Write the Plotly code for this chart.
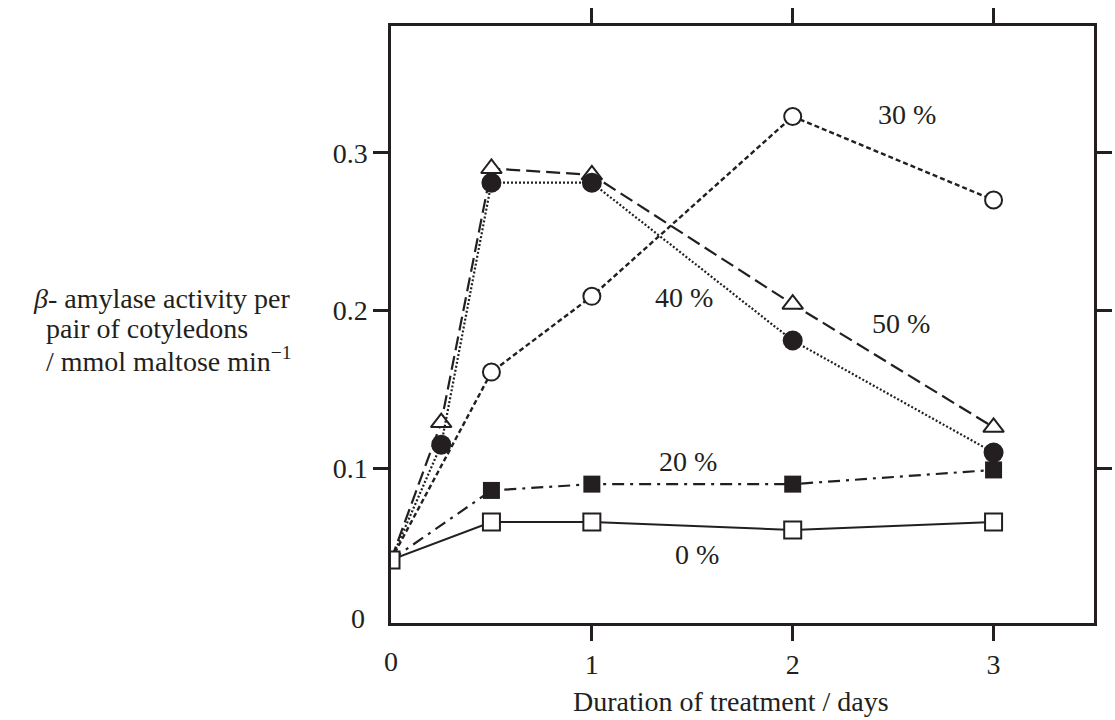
import plotly.graph_objects as go

# ---- data ----
days_main = [0, 0.5, 1, 2, 3]
days_fast = [0, 0.25, 0.5, 1, 2, 3]
act_0 = [0.042, 0.066, 0.066, 0.061, 0.066]
act_20 = [0.042, 0.086, 0.090, 0.090, 0.099]
act_30 = [0.042, 0.161, 0.209, 0.323, 0.270]
act_40 = [0.042, 0.115, 0.281, 0.281, 0.181, 0.110]
act_50 = [0.042, 0.129, 0.290, 0.286, 0.204, 0.126]
series_labels = ["0 %", "20 %", "30 %", "40 %", "50 %"]
x_ticks = [1, 2, 3]
y_ticks = [0.1, 0.2, 0.3]

INK = "#231f20"
FONT = "Liberation Serif"

fig = go.Figure()

def sizes(n, s):
    return [0] + [s] * (n - 1)

# 50 % : open triangles, long dashes
fig.add_trace(go.Scatter(
    x=days_fast, y=act_50, mode="lines+markers",
    line=dict(color=INK, width=2.2, dash="14px,6px"),
    marker=dict(symbol="triangle-up", size=sizes(len(act_50), 18), color="white",
                opacity=1, line=dict(color=INK, width=2)),
    showlegend=False))
# 40 % : filled circles, dotted
fig.add_trace(go.Scatter(
    x=days_fast, y=act_40, mode="lines+markers",
    line=dict(color=INK, width=2.2, dash="2px,2px"),
    marker=dict(symbol="circle", size=sizes(len(act_40), 20), color=INK,
                opacity=1, line=dict(color=INK, width=0)),
    showlegend=False))
# 30 % : open circles, short dashes
fig.add_trace(go.Scatter(
    x=days_main, y=act_30, mode="lines+markers",
    line=dict(color=INK, width=2.4, dash="5px,3px"),
    marker=dict(symbol="circle", size=sizes(len(act_30), 17), color="white",
                opacity=1, line=dict(color=INK, width=2)),
    showlegend=False))
# 20 % : filled squares, dash-dot
fig.add_trace(go.Scatter(
    x=days_main, y=act_20, mode="lines+markers",
    line=dict(color=INK, width=2.2, dash="12px,6px,3px,6px"),
    marker=dict(symbol="square", size=sizes(len(act_20), 17), color=INK,
                opacity=1, line=dict(color=INK, width=0)),
    showlegend=False))
# 0 % : open squares, solid
fig.add_trace(go.Scatter(
    x=days_main, y=act_0, mode="lines+markers",
    line=dict(color=INK, width=2),
    marker=dict(symbol="square", size=17, color="white", opacity=1,
                line=dict(color=INK, width=2)),
    showlegend=False))

tickfont = dict(family=FONT, size=28, color=INK)

fig.update_xaxes(range=[0, 3.5], tickvals=x_ticks, ticktext=[str(v) for v in x_ticks],
                 ticks="outside", ticklen=15, tickwidth=2.5, tickcolor=INK,
                 showline=True, linewidth=2.5, linecolor=INK, mirror="ticks",
                 showgrid=False, zeroline=False, tickfont=tickfont)
fig.update_yaxes(range=[0.002, 0.3803], tickvals=y_ticks, ticktext=[str(v) for v in y_ticks],
                 ticks="outside", ticklen=15, tickwidth=2.5, tickcolor=INK,
                 showline=True, linewidth=2.5, linecolor=INK, mirror="ticks",
                 showgrid=False, zeroline=False, tickfont=tickfont)

ann = []
# series labels
label_pos = {"30 %": (2.568, 0.324), "40 %": (1.461, 0.208), "50 %": (2.539, 0.192),
             "20 %": (1.481, 0.1046), "0 %": (1.524, 0.0457)}
for lab in series_labels:
    x, y = label_pos[lab]
    ann.append(dict(x=x, y=y, xref="x", yref="y", text=lab, showarrow=False,
                    xanchor="center", yanchor="middle", font=tickfont))
# "0" labels at the origin
ann.append(dict(x=0, y=-0.0648, xref="x", yref="paper", text="0", showarrow=False,
                xanchor="center", yanchor="middle", font=tickfont))
ann.append(dict(x=-0.0337, y=0.0051, xref="paper", yref="y", text="0", showarrow=False,
                xanchor="right", yanchor="middle", font=tickfont))
# axis titles
ann.append(dict(x=0.484, y=-0.132, xref="paper", yref="paper",
                text="Duration of treatment / days", showarrow=False,
                xanchor="center", yanchor="middle", font=tickfont))
ytitle = [("<i>β</i>- amylase activity per", 22, 298),
          ("pair of cotyledons", 35, 328),
          ("/ mmol maltose min<sup>−1</sup>", 35, 359)]
for txt, px, py in ytitle:
    ann.append(dict(x=(px - 391) / 721, y=(623 - py) / 597, xref="paper", yref="paper",
                    text=txt, showarrow=False, xanchor="left", yanchor="middle",
                    font=tickfont))

fig.update_layout(width=1115, height=720,
                  margin=dict(l=391, r=3, t=26, b=97, pad=0),
                  paper_bgcolor="white", plot_bgcolor="white",
                  annotations=ann, font=dict(family=FONT, color=INK))

fig.write_html("out.html")
